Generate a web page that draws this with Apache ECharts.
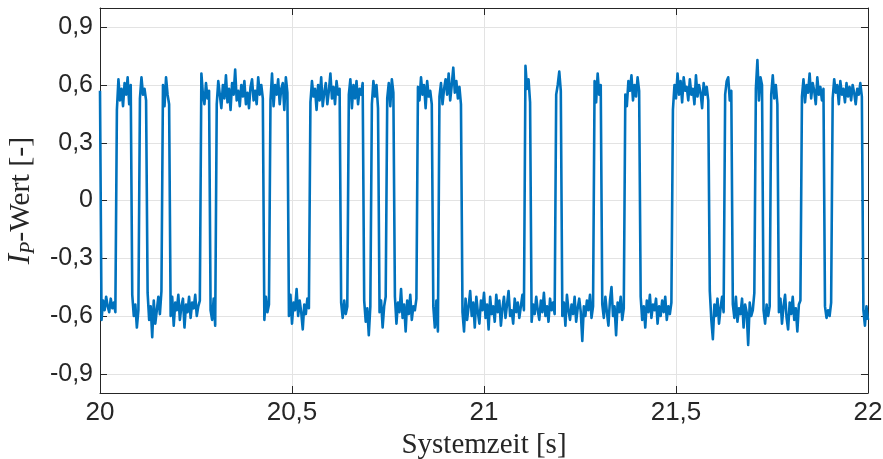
<!DOCTYPE html>
<html><head><meta charset="utf-8">
<script src="https://cdn.jsdelivr.net/npm/echarts@6/dist/echarts.min.js"></script>
<style>html,body{margin:0;padding:0;background:#fff}#c{width:883px;height:459px}</style>
</head><body><div id="c"></div><script>
// Sample grid of the measurement
const startZeit = 20.0;
const abtastIntervall = 0.004;
// I_P values (one per sample)
const ipWert = [
 0.57,
 -0.62,-0.52,-0.57,-0.50,-0.55,-0.58,-0.51,-0.56,-0.53,-0.58,
 0.47,0.63,0.52,0.58,0.49,0.61,0.55,0.64,0.50,0.60,
 -0.49,-0.60,-0.54,-0.66,-0.57,
 0.53,0.64,0.55,0.58,0.52,
 -0.48,-0.62,-0.55,-0.71,-0.52,-0.64,-0.57,-0.50,-0.59,-0.47,
 0.60,0.49,0.64,0.55,0.50,
 -0.60,-0.50,-0.65,-0.53,-0.57,-0.49,-0.62,-0.55,-0.51,-0.66,-0.54,-0.58,-0.50,-0.61,-0.53,-0.56,-0.49,-0.60,-0.55,-0.52,
 0.66,0.55,0.50,0.61,0.53,0.57,
 -0.57,-0.62,-0.51,-0.65,
 0.50,0.62,0.55,0.48,0.60,0.53,0.65,0.51,0.58,0.47,0.61,0.55,0.68,0.52,0.57,0.49,0.60,0.54,0.62,0.50,0.56,0.48,0.59,0.63,0.52,0.57,0.50,0.64,0.55,0.60,0.53,
 -0.62,-0.50,-0.58,-0.54,
 0.52,0.66,0.49,0.60,0.55,0.63,0.50,0.58,0.61,0.47,0.64,0.56,
 -0.60,-0.49,-0.64,-0.53,-0.57,-0.46,-0.60,-0.52,-0.58,-0.67,-0.54,-0.59,-0.51,-0.56,
 0.51,0.62,0.54,0.58,0.47,0.60,0.52,0.64,0.49,0.56,0.61,0.50,0.57,0.66,0.53,0.59,0.50,0.62,0.55,0.58,
 -0.53,-0.61,-0.52,-0.59,-0.55,
 0.55,0.63,0.48,0.60,0.53,0.62,0.50,0.58,0.55,0.61,
 -0.52,-0.63,-0.56,-0.70,-0.55,
 0.50,0.62,0.54,0.60,0.48,
 -0.58,-0.52,-0.66,-0.55,-0.50,
 0.53,0.61,0.49,0.63,0.56,
 -0.50,-0.64,-0.53,-0.58,-0.46,-0.61,-0.54,-0.68,-0.52,-0.59,-0.49,-0.62,-0.55,-0.57,-0.51,
 0.59,0.52,0.64,0.55,0.60,0.48,0.62,0.54,0.57,0.50,
 -0.55,-0.66,-0.52,-0.68,
 0.54,0.61,0.50,0.58,0.63,0.55,0.66,0.52,0.60,0.69,0.56,0.62,0.53,0.59,0.50,
 -0.58,-0.68,-0.51,-0.62,-0.55,-0.47,-0.60,-0.53,-0.66,-0.50,-0.58,-0.64,-0.52,-0.57,-0.48,-0.61,-0.54,-0.67,-0.50,-0.59,-0.55,-0.63,-0.49,-0.58,-0.52,-0.65,-0.56,-0.50,-0.61,-0.54,-0.47,-0.60,-0.57,-0.64,-0.51,-0.58,-0.53,-0.61,-0.55,-0.49,-0.57,
 0.70,0.58,0.63,0.51,
 -0.63,-0.54,-0.59,-0.50,-0.57,-0.62,-0.52,-0.58,-0.48,-0.60,-0.55,-0.63,-0.51,-0.57,-0.53,-0.59,
 0.55,0.60,0.67,0.57,
 -0.60,-0.53,-0.65,-0.49,-0.57,-0.62,-0.54,-0.59,-0.50,-0.63,-0.56,-0.51,-0.58,-0.73,-0.55,-0.60,-0.52,-0.57,-0.49,-0.61,-0.55,
 0.62,0.51,0.66,0.55,0.60,
 -0.54,-0.61,-0.50,-0.58,-0.65,-0.52,-0.45,-0.60,-0.55,-0.70,-0.53,-0.58,-0.50,-0.62,-0.56,
 0.55,0.49,0.62,0.57,0.65,0.52,0.60,0.54,0.64,0.57,
 -0.50,-0.62,-0.55,-0.66,-0.52,-0.58,-0.49,-0.61,-0.54,-0.57,-0.51,-0.64,-0.55,-0.60,-0.52,-0.58,-0.50,-0.62,-0.55,-0.59,-0.53,
 0.47,0.60,0.53,0.66,0.55,0.62,0.51,0.64,0.57,0.59,0.52,0.63,0.55,0.58,0.50,0.65,0.54,0.60,0.56,0.48,0.61,0.55,0.59,0.52,
 -0.47,-0.62,-0.72,-0.54,-0.60,-0.51,-0.64,-0.56,-0.50,-0.58,
 0.55,0.62,0.64,0.52,0.57,
 -0.54,-0.61,-0.50,-0.63,-0.56,-0.59,-0.51,-0.66,-0.54,-0.58,-0.75,-0.53,-0.60,-0.57,-0.48,
 0.58,0.73,0.52,0.64,0.60,
 -0.57,-0.64,-0.54,-0.60,-0.55,
 0.55,0.65,0.53,0.60,0.50,
 -0.58,-0.51,-0.64,-0.55,-0.49,-0.61,-0.67,-0.53,-0.59,-0.50,-0.62,-0.56,-0.68,-0.54,-0.52,
 0.54,0.63,0.51,0.60,0.56,0.66,0.53,0.61,0.57,0.50,0.64,0.55,0.59,0.52,0.58,
 -0.55,-0.61,-0.57,-0.60,-0.53,
 0.53,0.63,0.56,0.60,0.50,0.62,0.55,0.58,0.51,0.61,0.54,0.59,0.52,0.60,0.56,0.50,0.58,0.55,0.61,0.54,
 -0.57,-0.65,-0.55,-0.62
];
const xTicks = [20, 20.5, 21, 21.5, 22];
const yTicks = [-0.9, -0.6, -0.3, 0, 0.3, 0.6, 0.9];

const daten = ipWert.map((v, i) => [Number((startZeit + i * abtastIntervall).toFixed(3)), v]);
const fmt = v => String(v).replace('.', ',');
const txt = '#262626';
const gridCol = '#e3e3e3';
const sans = 'Liberation Sans, Arial, Helvetica, sans-serif';
const serif = 'Liberation Serif, Times New Roman, serif';

const chart = echarts.init(document.getElementById('c'), null, {renderer: 'canvas'});
const axLine = {show: true, onZero: false, lineStyle: {color: txt, width: 1}};
chart.setOption({
  animation: false,
  backgroundColor: '#fff',
  grid: {left: 100, right: 15, top: 8, bottom: 66, containLabel: false, outerBoundsMode: 'none'},
  xAxis: [{
    type: 'value', min: xTicks[0], max: xTicks[xTicks.length - 1], interval: 0.5, position: 'bottom',
    axisLine: axLine,
    axisTick: {show: true, inside: true, length: 7, lineStyle: {color: txt}},
    axisLabel: {formatter: fmt, fontSize: 26, color: txt, margin: 7, fontFamily: sans},
    splitLine: {show: true, lineStyle: {color: gridCol, width: 1}},
    name: 'Systemzeit [s]', nameLocation: 'middle', nameGap: 37,
    nameTextStyle: {fontFamily: serif, fontSize: 29, color: txt}
  }, {
    type: 'value', min: xTicks[0], max: xTicks[xTicks.length - 1], interval: 0.5, position: 'top',
    axisLine: axLine,
    axisTick: {show: true, inside: true, length: 7, lineStyle: {color: txt}},
    axisLabel: {show: false}, splitLine: {show: false}
  }],
  yAxis: [{
    type: 'value', min: -1, max: 1, position: 'left',
    axisLine: axLine,
    axisTick: {show: true, inside: true, length: 7, customValues: yTicks, lineStyle: {color: txt}},
    axisLabel: {customValues: yTicks, formatter: fmt, fontSize: 25, color: txt, margin: 7, fontFamily: sans},
    splitLine: {show: true, lineStyle: {color: gridCol, width: 1}},
    name: '{i|I}{s|P}{n|-Wert [-]}', nameLocation: 'middle', nameGap: 53, nameRotate: 90,
    nameTextStyle: {
      color: txt, fontFamily: serif, fontSize: 30,
      rich: {
        i: {fontFamily: serif, fontStyle: 'italic', fontSize: 31, color: txt, lineHeight: 36},
        s: {fontFamily: serif, fontStyle: 'italic', fontSize: 20, color: txt, lineHeight: 36, verticalAlign: 'bottom'},
        n: {fontFamily: serif, fontSize: 30, color: txt, lineHeight: 36}
      }
    }
  }, {
    type: 'value', min: -1, max: 1, position: 'right',
    axisLine: axLine,
    axisTick: {show: true, inside: true, length: 7, customValues: yTicks, lineStyle: {color: txt}},
    axisLabel: {show: false, customValues: yTicks}, splitLine: {show: false}
  }],
  series: [{
    type: 'line', data: daten, xAxisIndex: 0, yAxisIndex: 0,
    showSymbol: false, symbol: 'none',
    lineStyle: {color: '#0072BD', width: 2.6, join: 'round'},
    clip: true
  }]
});
</script></body></html>
